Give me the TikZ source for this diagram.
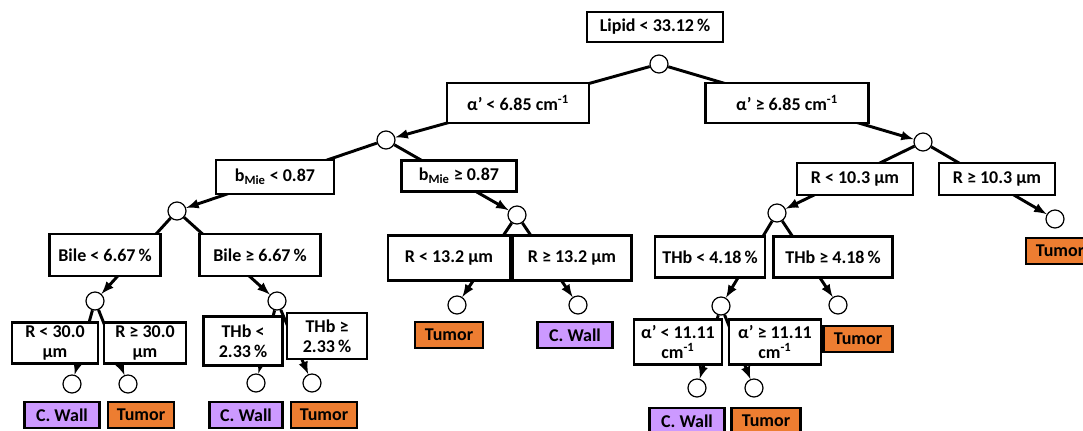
\documentclass[tikz,border=0pt]{standalone}
\usepackage{fontspec}
\setmainfont{Carlito}
\usepackage{tikz}
\usetikzlibrary{arrows}

\definecolor{tumorfill}{RGB}{237,125,49}
\definecolor{wallfill}{RGB}{204,153,255}

\begin{document}
\begin{tikzpicture}[>=latex, x=0.75pt, y=-0.75pt,
	split/.style={circle, draw, fill=white, line width=0.9pt, minimum size=13.5pt, inner sep=0pt},
	cond/.style 2 args={draw, fill=white, line width=2pt, align=center, inner sep=0pt,
		font=\fontsize{13.5}{15}\selectfont\bfseries, minimum width=#1*0.75pt, minimum height=#2*0.75pt},
	tumorbox/.style={cond={#1}{26}, fill=tumorfill},
	wallbox/.style={cond={#1}{26}, fill=wallfill},
	branch/.style={->, line width=2.2pt}]
	\useasboundingbox (0,0) rectangle (1083,430);
	%\draw [help lines, step=50] (0,0) grid (1083,430);
	
	% split points
	\node[split] (c0) at (659,64) {};
	\node[split] (c1) at (386,140) {};
	\node[split] (c2) at (923,142) {};
	\node[split] (c3) at (177,211) {};
	\node[split] (c4) at (517,215) {};
	\node[split] (c5) at (777,213) {};
	\node[split] (c6) at (1055,219) {};
	\node[split] (c7) at (95,301) {};
	\node[split] (c8) at (277,301) {};
	\node[split] (c9) at (457,305) {};
	\node[split] (c10) at (578,305) {};
	\node[split] (c11) at (721,306) {};
	\node[split] (c12) at (838,305) {};
	\node[split] (c13) at (72,384) {};
	\node[split] (c14) at (128,384) {};
	\node[split] (c15) at (256,383) {};
	\node[split] (c16) at (312,383) {};
	\node[split] (c17) at (697,388) {};
	\node[split] (c18) at (754,388) {};
	
	\draw[branch] (c0) -- (c1);
	\draw[branch] (c0) -- (c2);
	\draw[branch] (c1) -- (c3);
	\draw[branch] (c1) -- (c4);
	\draw[branch] (c2) -- (c5);
	\draw[branch] (c2) -- (c6);
	\draw[branch] (c3) -- (c7);
	\draw[branch] (c3) -- (c8);
	\draw[branch] (c4) -- (c9);
	\draw[branch] (c4) -- (c10);
	\draw[branch] (c5) -- (c11);
	\draw[branch] (c5) -- (c12);
	\draw[branch] (c7) -- (c13);
	\draw[branch] (c7) -- (c14);
	\draw[branch] (c8) -- (c15);
	\draw[branch] (c8) -- (c16);
	\draw[branch] (c11) -- (c17);
	\draw[branch] (c11) -- (c18);
	
	% conditions
	\node[cond={136}{30}] (lipid) at (655,27) {Lipid < 33.12\,\%};
	\node[cond={142}{40}] (alo) at (518,103) {α’ < 6.85 cm\textsuperscript{-1}};
	\node[cond={163}{40}] (ahi) at (787,103) {α’ ≥ 6.85 cm\textsuperscript{-1}};
	\node[cond={118}{34}] (blo) at (275,177) {b\textsubscript{Mie} < 0.87};
	\node[cond={115}{31}] (bhi) at (459,176) {b\textsubscript{Mie} ≥ 0.87};
	\node[cond={116}{32}] (rlo) at (855,179) {R < 10.3 µm};
	\node[cond={116}{32}] (rhi) at (997,179) {R ≥ 10.3 µm};
	\node[cond={111}{42}] (bilelo) at (105,255) {Bile < 6.67\,\%};
	\node[cond={121}{42}] (bilehi) at (260,255) {Bile ≥ 6.67\,\%};
	\node[cond={122}{45}] (rmlo) at (449,258) {R < 13.2 µm};
	\node[cond={119}{45}] (rmhi) at (572,258) {R ≥ 13.2 µm};
	\node[cond={110}{41}] (thblo) at (710,257) {THb < 4.18\,\%};
	\node[cond={119}{41}] (thbhi) at (833,257) {THb ≥ 4.18\,\%};
	\node[cond={86}{41}] (rslo) at (55,343) {R < 30.0\\µm};
	\node[cond={82}{41}] (rshi) at (145,343) {R ≥ 30.0\\µm};
	\node[cond={79}{49}] (thbslo) at (243,341) {THb <\\2.33\,\%};
	\node[cond={80}{46}] (thbshi) at (327,336) {THb ≥\\2.33\,\%};
	\node[cond={88}{45}] (aslo) at (678,342) {α’ < 11.11\\cm\textsuperscript{-1}};
	\node[cond={92}{45}] (ashi) at (775,342) {α’ ≥ 11.11\\cm\textsuperscript{-1}};
	
	% classes
	\node[tumorbox=68] (t1) at (449,335) {Tumor};
	\node[wallbox=75] (w1) at (575,335) {C. Wall};
	\node[tumorbox=69] (t2) at (858,339) {Tumor};
	\node[tumorbox=68] (t3) at (1060,251) {Tumor};
	\node[wallbox=75] (w2) at (62,415) {C. Wall};
	\node[tumorbox=66] (t4) at (141,415) {Tumor};
	\node[wallbox=73] (w3) at (246,415) {C. Wall};
	\node[tumorbox=66] (t5) at (324,415) {Tumor};
	\node[wallbox=75] (w4) at (687,421) {C. Wall};
	\node[tumorbox=69] (t6) at (766,421) {Tumor};
\end{tikzpicture}
\end{document}
